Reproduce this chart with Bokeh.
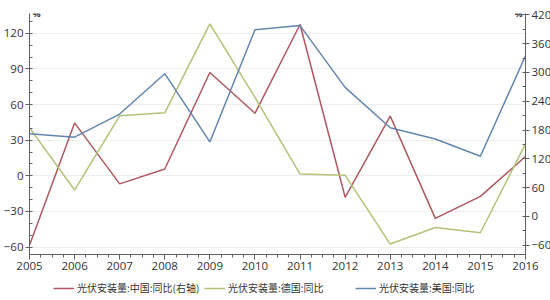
from bokeh.plotting import figure
from bokeh.layouts import column
from bokeh.models import Range1d, LinearAxis, FixedTicker, Legend, LegendItem, Label
from bokeh.embed import file_html
from bokeh.resources import INLINE

years = [2005, 2006, 2007, 2008, 2009, 2010, 2011, 2012, 2013, 2014, 2015, 2016]
china_yoy = [-60, 195, 68, 99, 300, 215, 400, 40, 209, -4, 42, 125]          # right axis
germany_yoy = [40.5, -12, 50.5, 53, 128, 66, 1.5, 0.5, -57.5, -43.5, -48, 27]  # left axis
usa_yoy = [35.5, 32.5, 52, 86, 28.5, 123, 126.5, 74.5, 40.5, 31, 16.5, 101]    # left axis

left_ticks = [-60, -30, 0, 30, 60, 90, 120]
right_ticks = [-60, 0, 60, 120, 180, 240, 300, 360, 420]
names = ["光伏安装量:中国:同比(右轴)", "光伏安装量:德国:同比", "光伏安装量:美国:同比"]

RED = "#b0575f"
GREEN = "#b4c278"
BLUE = "#6286b0"
AX = "#606060"
TXT = "#333333"
NUM_FONT = "Open Sans"

p = figure(frame_width=496, frame_height=241, output_backend="svg", toolbar_location=None,
           x_range=Range1d(2005, 2016), y_range=Range1d(-66.3, 136.7),
           min_border_left=27, min_border_right=27, min_border_top=13, min_border_bottom=20)
p.extra_y_ranges = {"right": Range1d(-79.2, 422.9)}
p.outline_line_color = None
p.background_fill_color = "white"

p.xgrid.visible = False
p.ygrid.ticker = FixedTicker(ticks=left_ticks)
p.ygrid.grid_line_color = "#eeeeee"
p.ygrid.grid_line_width = 1

def style_axis(ax):
    ax.axis_line_color = AX
    ax.major_tick_line_color = AX
    ax.minor_tick_line_color = AX
    ax.major_label_text_color = TXT
    ax.major_label_text_font = NUM_FONT
    ax.major_label_text_font_size = "11.5px"

# x axis
xa = p.xaxis[0]
xa.ticker = FixedTicker(ticks=years, minor_ticks=[2005 + i * 0.25 for i in range(45)])
style_axis(xa)
xa.major_tick_in = 0
xa.major_tick_out = 5
xa.minor_tick_in = 0
xa.minor_tick_out = 3
xa.major_label_standoff = 2

# left axis
ya = p.yaxis[0]
ya.ticker = FixedTicker(ticks=left_ticks, minor_ticks=list(range(-60, 140, 10)))
style_axis(ya)
ya.major_tick_in = 0
ya.major_tick_out = 4
ya.minor_tick_in = 3
ya.minor_tick_out = 0
ya.major_label_standoff = 2

# right axis
ra = LinearAxis(y_range_name="right",
                ticker=FixedTicker(ticks=right_ticks, minor_ticks=list(range(-60, 421, 30))))
style_axis(ra)
ra.major_tick_in = 0
ra.major_tick_out = 4
ra.minor_tick_in = 3
ra.minor_tick_out = 0
ra.major_label_standoff = 2
p.add_layout(ra, "right")

p.line(years, china_yoy, line_color=RED, line_width=1.5, y_range_name="right")
p.line(years, germany_yoy, line_color=GREEN, line_width=1.5)
p.line(years, usa_yoy, line_color=BLUE, line_width=1.5)

p.add_layout(Label(x=2005, y=136.7, x_offset=3, text="%", text_font=NUM_FONT,
                   text_font_size="9px", text_font_style="bold", text_color=TXT,
                   text_baseline="middle", text_align="left"))
p.add_layout(Label(x=2016, y=136.7, x_offset=-3, text="%", text_font=NUM_FONT,
                   text_font_size="9px", text_font_style="bold", text_color=TXT,
                   text_baseline="middle", text_align="right"))

# legend strip below the chart (same series, lines outside its view)
leg = figure(width=550, height=26, output_backend="svg", toolbar_location=None,
             x_range=Range1d(0, 1), y_range=Range1d(0, 1),
             x_axis_location=None, y_axis_location=None, min_border=0)
leg.outline_line_color = None
leg.grid.visible = False
l_cn = leg.line(years, china_yoy, line_color=RED, line_width=1.5)
l_de = leg.line(years, germany_yoy, line_color=GREEN, line_width=1.5)
l_us = leg.line(years, usa_yoy, line_color=BLUE, line_width=1.5)

legend = Legend(items=[LegendItem(label=names[0], renderers=[l_cn]),
                       LegendItem(label=names[1], renderers=[l_de]),
                       LegendItem(label=names[2], renderers=[l_us])],
                orientation="horizontal", location=(24, 5),
                label_text_font="Noto Sans CJK SC", label_text_font_size="10px",
                label_text_color=TXT, glyph_width=21, glyph_height=14, label_height=14,
                label_width=126, label_standoff=3, spacing=1, padding=0, margin=0,
                border_line_color=None, background_fill_alpha=0)
leg.add_layout(legend)

layout = column(p, leg, spacing=0)
open("out.html", "w").write(file_html(layout, INLINE))
